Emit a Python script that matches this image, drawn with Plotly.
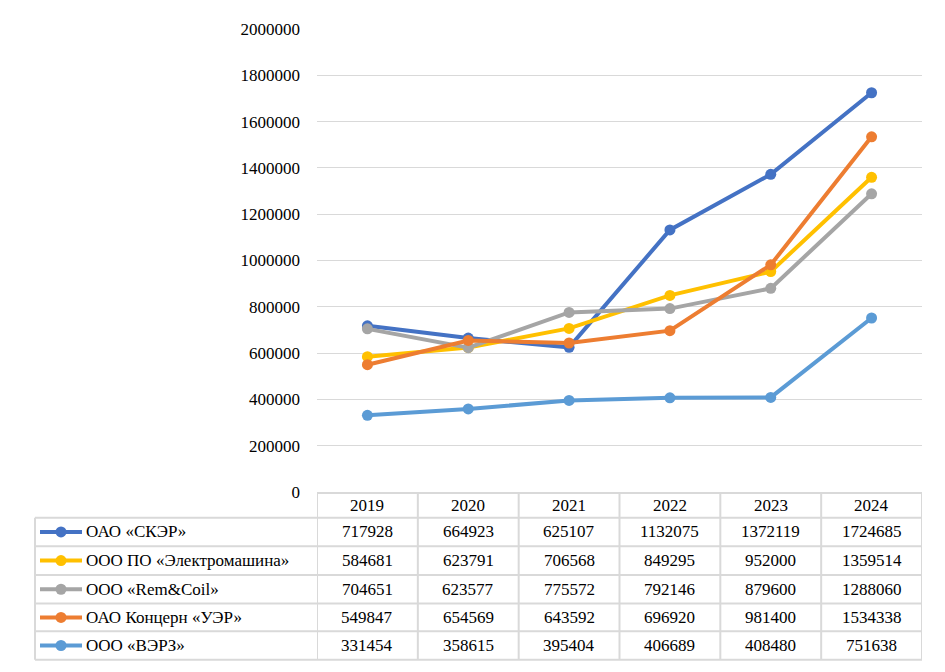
import plotly.graph_objects as go

years = ["2019", "2020", "2021", "2022", "2023", "2024"]
series_names = ["ОАО «СКЭР»", "ООО ПО «Электромашина»", "ООО «Rem&Coil»",
                "ОАО Концерн «УЭР»", "ООО «ВЭРЗ»"]
skerv = [717928, 664923, 625107, 1132075, 1372119, 1724685]
elektromash = [584681, 623791, 706568, 849295, 952000, 1359514]
remcoil = [704651, 623577, 775572, 792146, 879600, 1288060]
uer = [549847, 654569, 643592, 696920, 981400, 1534338]
verz = [331454, 358615, 395404, 406689, 408480, 751638]
values = [skerv, elektromash, remcoil, uer, verz]
colors = ["#4472C4", "#FFC000", "#A5A5A5", "#ED7D31", "#5B9BD5"]
yticks = [0, 200000, 400000, 600000, 800000, 1000000, 1200000, 1400000,
          1600000, 1800000, 2000000]

OFF = 8  # browser default body margin
W, H = 945 - 2 * OFF, 672 - 2 * OFF
L, R, T, B = 317 - OFF, 922 - OFF, 23 - OFF, 492 - OFF
FONT = "'Liberation Serif', 'Times New Roman', Tinos, 'DejaVu Serif', serif"
FS = 17


def px(p):
    return (p - OFF - L) / (R - L)


def py(p):
    return (B - (p - OFF)) / (B - T)


fig = go.Figure()
xs = list(range(len(years)))
for name, vals, c in zip(series_names, values, colors):
    fig.add_trace(go.Scatter(x=xs, y=vals, name=name, mode="lines+markers",
                             line=dict(color=c, width=4),
                             marker=dict(color=c, size=11),
                             showlegend=False, cliponaxis=False))

shapes = []
ann = []
gridc = "#D9D9D9"
row_lines = [493, 518, 547, 576, 605, 633, 662]
for i in range(len(years) + 1):
    shapes.append(dict(type="line", xref="x", yref="paper", x0=i - 0.5, x1=i - 0.5,
                       y0=py(row_lines[0]), y1=py(row_lines[-1]),
                       line=dict(color=gridc, width=2)))
shapes.append(dict(type="line", xref="paper", yref="paper", x0=px(35), x1=px(35),
                   y0=py(row_lines[1]), y1=py(row_lines[-1]),
                   line=dict(color=gridc, width=2)))
shapes.append(dict(type="line", xref="paper", yref="paper", x0=0, x1=1,
                   y0=py(row_lines[0]), y1=py(row_lines[0]),
                   line=dict(color=gridc, width=2)))
for rl in row_lines[1:]:
    shapes.append(dict(type="line", xref="paper", yref="paper", x0=px(35), x1=1,
                       y0=py(rl), y1=py(rl), line=dict(color=gridc, width=2)))

for i, yr in enumerate(years):
    ann.append(dict(x=i, y=py((row_lines[0] + row_lines[1]) / 2), xref="x", yref="paper",
                    text=yr, showarrow=False, xanchor="center", yanchor="middle",
                    font=dict(family=FONT, size=FS, color="black")))

for r, (name, vals, c) in enumerate(zip(series_names, values, colors)):
    yc = py((row_lines[r + 1] + row_lines[r + 2]) / 2)
    shapes.append(dict(type="line", xref="paper", yref="paper", x0=px(40), x1=px(82),
                       y0=yc, y1=yc, line=dict(color=c, width=4)))
    shapes.append(dict(type="circle", xref="paper", yref="paper", xsizemode="pixel",
                       ysizemode="pixel", xanchor=px(61), yanchor=yc,
                       x0=-5.5, x1=5.5, y0=-5.5, y1=5.5,
                       fillcolor=c, line=dict(color=c, width=0)))
    ann.append(dict(x=px(84), y=yc, xref="paper", yref="paper", text=name,
                    showarrow=False, xanchor="left", yanchor="middle",
                    font=dict(family=FONT, size=FS, color="black")))
    for i, v in enumerate(vals):
        ann.append(dict(x=i, y=yc, xref="x", yref="paper", text=str(v),
                        showarrow=False, xanchor="center", yanchor="middle",
                        font=dict(family=FONT, size=FS, color="black")))

fig.update_layout(
    width=W, height=H,
    margin=dict(l=L, r=W - R, t=T, b=H - B, pad=0),
    paper_bgcolor="white", plot_bgcolor="white",
    font=dict(family=FONT, size=FS, color="black"),
    shapes=shapes, annotations=ann,
    xaxis=dict(range=[-0.5, len(years) - 0.5], showticklabels=False, showgrid=False,
               zeroline=False, showline=False, ticks=""),
    yaxis=dict(range=[0, 2000000], tickvals=yticks, ticktext=[str(t) for t in yticks],
               showgrid=True, gridcolor=gridc, gridwidth=1, zeroline=False,
               showline=False, ticks="", ticklabelstandoff=16,
               tickfont=dict(family=FONT, size=FS, color="black")),
)

fig.write_html("out.html")
